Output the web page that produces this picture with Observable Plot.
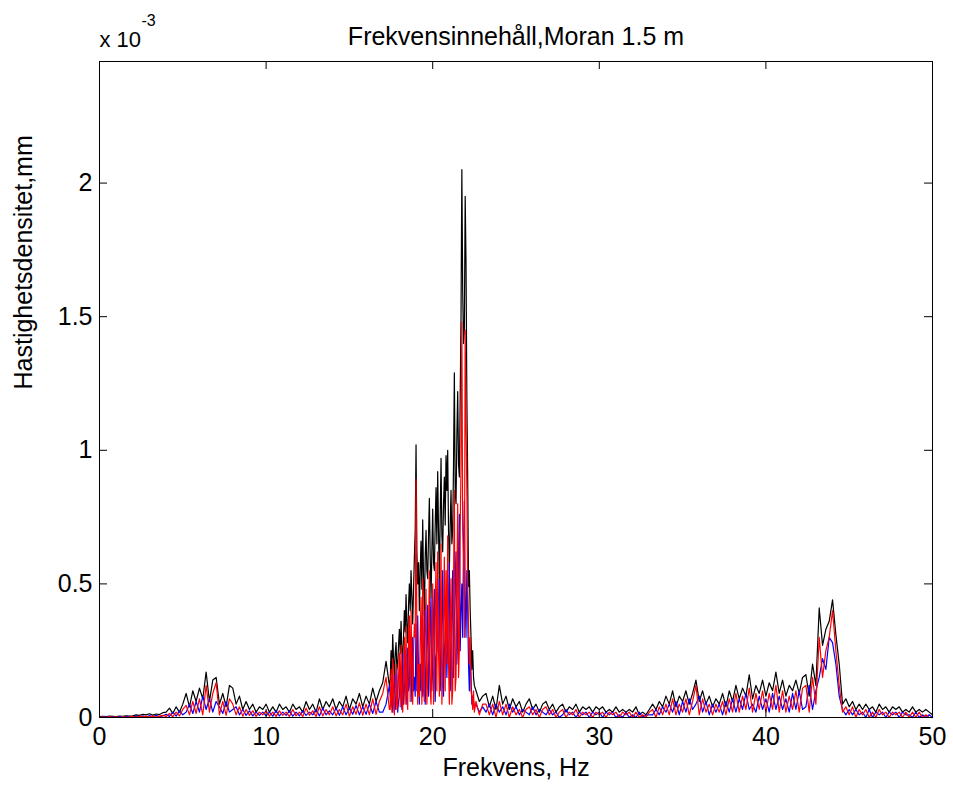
<!DOCTYPE html>
<html><head><meta charset="utf-8">
<script src="https://cdn.jsdelivr.net/npm/d3@7"></script>
<script src="https://cdn.jsdelivr.net/npm/@observablehq/plot@0.6"></script>
<style>body{margin:0;background:#fff}</style>
</head><body><div id="chart"></div>
<script>
// ---- text ----
const titleText = "Frekvensinnehåll,Moran 1.5 m";
const xLabel = "Frekvens, Hz";
const yLabel = "Hastighetsdensitet,mm";
const expBase = "x 10";
const expPow = "-3";

// ---- ticks ----
const xTicks = [0, 10, 20, 30, 40, 50];
const yTicks = [0, 0.5, 1, 1.5, 2];
const yTickLabels = ["0", "0.5", "1", "1.5", "2"];

// ---- frequency grid (Hz): three segments, start / step / count ----
const segStarts = [0, 17.45, 22.6];
const segSteps = [0.2, 0.05, 0.2];
const segCounts = [88, 102, 138];

// ---- series values (units of 1e-3) ----
const black = [
 // 0.0 – 17.4 (step 0.2)
 0.003,0.004,0.003,0.005,0.004,0.003,0.005,0.004,0.006,0.005,
 0.006,0.010,0.008,0.012,0.010,0.014,0.009,0.013,0.011,0.018,
 0.020,0.035,0.015,0.040,0.020,0.050,0.090,0.040,0.100,0.060,
 0.110,0.070,0.170,0.060,0.140,0.150,0.050,0.090,0.040,0.120,
 0.110,0.050,0.080,0.030,0.060,0.030,0.050,0.020,0.040,0.030,
 0.050,0.020,0.040,0.020,0.050,0.030,0.040,0.020,0.050,0.030,
 0.040,0.020,0.060,0.030,0.050,0.020,0.070,0.030,0.060,0.040,
 0.070,0.030,0.060,0.040,0.080,0.030,0.070,0.050,0.090,0.040,
 0.080,0.050,0.110,0.060,0.100,0.130,0.210,0.120,
 // 17.45 – 22.5 (step 0.05)
 0.14,0.25,0.16,0.31,0.22,0.15,0.24,0.28,0.18,0.20,
 0.27,0.33,0.24,0.36,0.25,0.22,0.30,0.40,0.32,0.46,
 0.34,0.28,0.42,0.50,0.40,0.55,0.45,0.35,0.48,0.60,
 0.70,1.02,0.62,0.50,0.58,0.40,0.55,0.66,0.48,0.74,
 0.52,0.38,0.60,0.70,0.55,0.52,0.68,0.82,0.60,0.45,
 0.62,0.78,0.58,0.55,0.72,0.86,0.65,0.92,0.70,0.50,
 0.75,0.97,0.68,0.62,0.80,0.90,0.72,0.98,0.85,1.00,
 0.70,0.55,0.72,0.85,0.65,0.70,0.95,1.29,0.85,0.80,
 1.05,1.22,0.95,0.90,1.20,1.50,2.05,1.60,1.40,1.45,
 1.95,1.70,1.20,0.90,0.49,0.55,0.40,0.30,0.18,0.25,
 0.15,0.12,
 // 22.6 – 50.0 (step 0.2)
 0.10,0.06,0.08,
 0.09,0.04,0.08,0.03,0.12,0.05,0.08,0.03,0.07,0.04,
 0.06,0.02,0.05,0.07,0.03,0.05,0.02,0.05,0.06,0.03,
 0.05,0.02,0.04,0.05,0.02,0.04,0.03,0.05,0.02,0.04,
 0.03,0.04,0.02,0.04,0.03,0.04,0.02,0.03,0.02,0.04,
 0.02,0.03,0.02,0.03,0.02,0.04,0.01,0.02,0.01,0.03,
 0.05,0.03,0.06,0.04,0.08,0.05,0.10,0.04,0.08,0.06,
 0.10,0.05,0.09,0.14,0.06,0.10,0.05,0.08,0.04,0.07,
 0.05,0.09,0.04,0.10,0.06,0.12,0.07,0.11,0.08,0.16,
 0.07,0.12,0.09,0.14,0.08,0.13,0.10,0.17,0.09,0.14,
 0.08,0.12,0.10,0.14,0.09,0.15,0.16,0.08,0.20,0.12,
 0.41,0.27,0.33,0.36,0.44,0.31,0.20,0.05,0.07,0.04,
 0.06,0.03,0.05,0.03,0.05,0.03,0.04,0.02,0.05,0.03,
 0.04,0.02,0.04,0.03,0.04,0.02,0.03,0.02,0.04,0.02,
 0.03,0.02,0.03,0.02,0.01
];

const blue = [
 // 0.0 – 17.4
 0.002,0.000,0.003,0.001,0.002,0.000,0.003,0.001,0.004,0.002,
 0.001,0.005,0.002,0.006,0.001,0.007,0.002,0.008,0.003,0.006,
 0.012,0.004,0.020,0.005,0.025,0.010,0.020,0.050,0.015,0.060,
 0.020,0.080,0.030,0.070,0.020,0.060,0.040,0.015,0.060,0.020,
 0.030,0.040,0.010,0.030,0.008,0.025,0.006,0.020,0.008,0.020,
 0.006,0.020,0.005,0.025,0.006,0.020,0.008,0.025,0.005,0.020,
 0.006,0.025,0.008,0.020,0.010,0.030,0.006,0.035,0.010,0.025,
 0.010,0.035,0.008,0.040,0.010,0.035,0.012,0.045,0.010,0.040,
 0.012,0.050,0.015,0.060,0.020,0.020,0.050,0.120,
 // 17.45 – 22.5
 0.08,0.04,0.10,0.02,0.10,0.16,0.03,0.05,0.18,0.02,
 0.06,0.08,0.15,0.10,0.03,0.24,0.05,0.10,0.18,0.12,
 0.05,0.26,0.10,0.12,0.30,0.20,0.06,0.30,0.10,0.15,
 0.08,0.35,0.10,0.38,0.15,0.05,0.20,0.10,0.30,0.08,
 0.25,0.40,0.05,0.15,0.30,0.42,0.08,0.18,0.35,0.45,
 0.10,0.20,0.38,0.48,0.06,0.22,0.25,0.30,0.45,0.52,
 0.10,0.20,0.40,0.55,0.08,0.25,0.30,0.40,0.15,0.30,
 0.45,0.58,0.10,0.20,0.40,0.55,0.15,0.35,0.50,0.62,
 0.20,0.30,0.60,0.76,0.25,0.40,0.50,0.30,0.65,0.81,
 0.45,0.30,0.55,0.40,0.20,0.10,0.25,0.15,0.05,0.08,
 0.06,0.04,
 // 22.6 – 50.0
 0.05,0.02,0.04,
 0.02,0.05,0.01,0.05,0.02,0.04,0.01,0.05,0.02,0.04,
 0.01,0.03,0.02,0.01,0.04,0.01,0.03,0.02,0.01,0.03,
 0.01,0.02,0.00,0.01,0.03,0.01,0.02,0.00,0.02,0.01,
 0.02,0.00,0.02,0.01,0.02,0.00,0.02,0.01,0.02,0.00,
 0.01,0.00,0.02,0.00,0.01,0.00,0.02,0.00,0.01,0.01,
 0.01,0.03,0.01,0.04,0.02,0.05,0.02,0.06,0.01,0.06,
 0.02,0.07,0.03,0.05,0.08,0.02,0.06,0.01,0.05,0.02,
 0.05,0.01,0.06,0.02,0.07,0.02,0.07,0.03,0.09,0.03,
 0.05,0.02,0.08,0.03,0.07,0.02,0.09,0.03,0.08,0.03,
 0.07,0.02,0.09,0.03,0.10,0.03,0.04,0.12,0.03,0.10,
 0.15,0.22,0.18,0.30,0.28,0.20,0.08,0.03,0.01,0.03,
 0.01,0.03,0.01,0.02,0.00,0.03,0.00,0.02,0.01,0.02,
 0.00,0.02,0.01,0.02,0.00,0.02,0.01,0.01,0.00,0.02,
 0.00,0.01,0.00,0.01,0.00
];

const red = [
 // 0.0 – 17.4
 0.000,0.002,0.000,0.003,0.001,0.002,0.000,0.003,0.001,0.002,
 0.003,0.001,0.004,0.002,0.005,0.001,0.006,0.002,0.005,0.008,
 0.004,0.015,0.003,0.020,0.006,0.030,0.045,0.010,0.060,0.015,
 0.070,0.010,0.120,0.020,0.090,0.130,0.010,0.060,0.008,0.070,
 0.050,0.010,0.040,0.005,0.030,0.008,0.025,0.004,0.020,0.010,
 0.025,0.005,0.020,0.004,0.025,0.008,0.020,0.004,0.030,0.006,
 0.020,0.004,0.035,0.008,0.025,0.004,0.040,0.006,0.030,0.010,
 0.040,0.006,0.030,0.010,0.050,0.005,0.040,0.012,0.055,0.008,
 0.050,0.010,0.070,0.012,0.060,0.090,0.150,0.030,
 // 17.45 – 22.5
 0.03,0.18,0.02,0.22,0.05,0.01,0.12,0.20,0.03,0.05,
 0.15,0.24,0.04,0.27,0.06,0.02,0.18,0.30,0.05,0.34,
 0.08,0.03,0.30,0.38,0.06,0.40,0.20,0.05,0.25,0.35,
 0.30,0.89,0.30,0.05,0.20,0.08,0.30,0.45,0.05,0.52,
 0.10,0.06,0.35,0.48,0.05,0.15,0.30,0.55,0.10,0.05,
 0.30,0.50,0.05,0.12,0.40,0.58,0.10,0.62,0.25,0.08,
 0.30,0.65,0.05,0.15,0.40,0.60,0.10,0.55,0.20,0.68,
 0.20,0.05,0.35,0.52,0.05,0.10,0.50,0.85,0.10,0.15,
 0.50,0.80,0.15,0.25,0.70,0.95,1.48,0.70,0.60,0.30,
 1.45,1.10,0.85,0.50,0.35,0.20,0.30,0.10,0.08,0.03,
 0.10,0.02,
 // 22.6 – 50.0
 0.06,0.01,0.05,
 0.05,0.01,0.05,0.00,0.06,0.01,0.05,0.00,0.04,0.01,
 0.03,0.00,0.03,0.04,0.01,0.03,0.00,0.03,0.04,0.01,
 0.03,0.00,0.02,0.03,0.00,0.02,0.01,0.03,0.00,0.02,
 0.01,0.02,0.00,0.02,0.01,0.02,0.00,0.02,0.01,0.02,
 0.00,0.02,0.01,0.02,0.00,0.02,0.00,0.01,0.00,0.02,
 0.03,0.00,0.04,0.01,0.05,0.01,0.07,0.01,0.05,0.02,
 0.07,0.01,0.06,0.12,0.01,0.07,0.02,0.05,0.01,0.05,
 0.02,0.06,0.01,0.07,0.02,0.09,0.02,0.08,0.03,0.11,
 0.02,0.09,0.03,0.10,0.02,0.09,0.03,0.12,0.02,0.10,
 0.02,0.08,0.03,0.10,0.02,0.11,0.12,0.02,0.15,0.05,
 0.30,0.15,0.25,0.30,0.40,0.25,0.12,0.02,0.04,0.01,
 0.04,0.00,0.03,0.01,0.03,0.00,0.02,0.00,0.03,0.01,
 0.02,0.00,0.02,0.01,0.02,0.00,0.02,0.00,0.02,0.00,
 0.02,0.00,0.01,0.00,0.00
];

// ---- build table ----
const freq = segStarts.flatMap((s, k) =>
  d3.range(segCounts[k]).map(i => Math.round((s + i * segSteps[k]) * 100) / 100));
const rows = freq.map((f, i) => ({f, black: black[i], blue: blue[i], red: red[i]}));

const W = 953, H = 790, mL = 99, mR = 21, mT = 61, mB = 73;
const innerW = W - mL - mR, innerH = H - mT - mB;
const tickLen = 8;
const font = "'Liberation Sans', Arial, Helvetica, sans-serif";

const chart = Plot.plot({
  width: W, height: H,
  marginLeft: mL, marginRight: mR, marginTop: mT, marginBottom: mB,
  style: {fontFamily: font, fontSize: "25px", background: "#fff", color: "#000", overflow: "visible"},
  x: {domain: [0, 50], label: null},
  y: {domain: [0, 2.455], label: null},
  marks: [
    Plot.line(rows, {x: "f", y: "black", stroke: "#000000", strokeWidth: 1.2}),
    Plot.line(rows, {x: "f", y: "blue", stroke: "#0000ff", strokeWidth: 1.2}),
    Plot.line(rows, {x: "f", y: "red", stroke: "#ff0000", strokeWidth: 1.2}),
    Plot.frame({stroke: "#000", strokeWidth: 1}),
    Plot.tickX(xTicks, {x: d => d, insetTop: innerH - tickLen, stroke: "#000"}),
    Plot.tickX(xTicks, {x: d => d, insetBottom: innerH - tickLen, stroke: "#000"}),
    Plot.tickY(yTicks, {y: d => d, insetRight: innerW - tickLen, stroke: "#000"}),
    Plot.tickY(yTicks, {y: d => d, insetLeft: innerW - tickLen, stroke: "#000"}),
    Plot.axisX({ticks: xTicks, tickSize: 0, tickPadding: 10, fontSize: 25, tickFormat: d => `${d}`}),
    Plot.axisY({ticks: yTicks, tickSize: 0, tickPadding: 7, fontSize: 25,
      tickFormat: d => yTickLabels[yTicks.indexOf(d)]}),
    Plot.text([titleText], {text: d => d, frameAnchor: "top", dy: -34, fontSize: 25}),
    Plot.text([xLabel], {text: d => d, frameAnchor: "bottom", dy: 58, fontSize: 25}),
    Plot.text([yLabel], {text: d => d, frameAnchor: "left", dx: -76, rotate: -90, fontSize: 25}),
    Plot.text([expBase], {text: d => d, frameAnchor: "top-left", textAnchor: "start", dy: -30, fontSize: 22}),
    Plot.text([expPow], {text: d => d, frameAnchor: "top-left", textAnchor: "start", dx: 42, dy: -47, fontSize: 16})
  ]
});
document.getElementById("chart").appendChild(chart);
</script>
</body></html>
